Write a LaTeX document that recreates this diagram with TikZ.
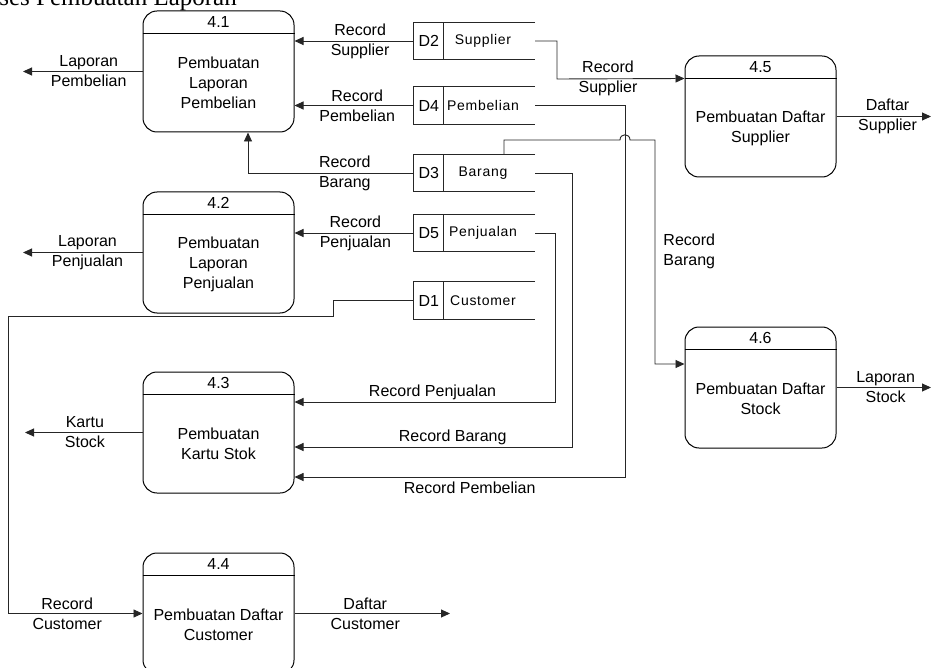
\documentclass[tikz,border=0pt]{standalone}
\usepackage{fontspec}
\setmainfont{Liberation Sans}
\newfontfamily\titlefont{Liberation Serif}
\newfontfamily\storefont[LetterSpace=5]{Liberation Sans}
\usetikzlibrary{arrows.meta}

% process: name, left, top, number, body text
\newcommand\procnode[5]{%
  \node[procbox] (#1) at (#2+75.5,#3+60.5) {};
  \draw[line width=1pt] ([yshift=-23pt]#1.north west) -- ([yshift=-23pt]#1.north east);
  \node (#1num) at ([yshift=-11.5pt]#1.north) {#4};
  \node[align=center] (#1txt) at ([yshift=-11.5pt]#1.center) {#5};
}
% data store: name, centre y, id, title
\newcommand\storenode[4]{%
  \node[storebox] (#1) at (474.5,#2) {};
  \draw[link] (#1.north east) -- (#1.north west) -- (#1.south west) -- (#1.south east);
  \draw[link] ([xshift=30pt]#1.north west) -- ([xshift=30pt]#1.south west);
  \node (#1id) at ([xshift=15pt]#1.west) {#3};
  \node[font=\storefont\fontsize{14}{16}\selectfont] (#1nm) at ([xshift=8.5pt]#1.center) {#4};
}

\begin{document}
\begin{tikzpicture}[x=1pt,y=-1pt,
  every node/.style={font=\fontsize{16}{20}\selectfont, inner sep=0pt},
  link/.style={draw=black!85, line width=0.9pt},
  flow/.style={link, -{Triangle[length=9pt,width=8pt]}},
  lbl/.style={align=center},
  procbox/.style={draw, line width=1pt, rounded corners=14pt,
    minimum width=151pt, minimum height=121pt},
  storebox/.style={minimum width=121pt, minimum height=37pt},
]
\useasboundingbox (0,0) rectangle (933,668);

\node[font=\titlefont\fontsize{25}{29}\selectfont, anchor=base east] (title)
  at (237,6) {Proses Pembuatan Laporan};

% processes
\procnode{p41}{143}{11}{4.1}{Pembuatan\\Laporan\\Pembelian}
\procnode{p42}{143}{192}{4.2}{Pembuatan\\Laporan\\Penjualan}
\procnode{p43}{143}{372}{4.3}{Pembuatan\\Kartu Stok}
\procnode{p44}{143}{553}{4.4}{Pembuatan Daftar\\Customer}
\procnode{p45}{685}{56}{4.5}{Pembuatan Daftar\\Supplier}
\procnode{p46}{685}{327}{4.6}{Pembuatan Daftar\\Stock}

% data stores
\storenode{d2}{41}{D2}{Supplier}
\storenode{d4}{105.5}{D4}{Pembelian}
\storenode{d3}{173}{D3}{Barang}
\storenode{d5}{233}{D5}{Penjualan}
\storenode{d1}{300.5}{D1}{Customer}

% free ends and bends
\coordinate (o41) at (23,71.5);
\coordinate (o42) at (23,252.5);
\coordinate (o43) at (25,432.5);
\coordinate (o44) at (450,613.5);
\coordinate (o45) at (931,116.5);
\coordinate (o46) at (931,387.5);
\coordinate (c1a) at (333,316);
\coordinate (c1b) at (8,316);
\coordinate (c2) at (557,79);
\coordinate (c4) at (625,477);
\coordinate (j1) at (620,140);
\coordinate (j2) at (630,140);
\coordinate (c3b) at (655,364);
\coordinate (c3c) at (572,447);
\coordinate (c5) at (555,402);

% outputs
\draw[flow] (p41.west) -- (o41) node[lbl,pos=0.45] (l1) {Laporan\\Pembelian};
\draw[flow] (p42.west) -- (o42) node[lbl,pos=0.46] (l2) {Laporan\\Penjualan};
\draw[flow] (p43.west) -- (o43) node[lbl,pos=0.49] (l3) {Kartu\\Stock};
\draw[flow] (p44.east) -- (o44) node[lbl,pos=0.455] (l4) {Daftar\\Customer};
\draw[flow] (p45.east) -- (o45) node[lbl,pos=0.54] (l5) {Daftar\\Supplier};
\draw[flow] (p46.east) -- (o46) node[lbl,pos=0.52] (l6) {Laporan\\Stock};

% store to process flows
\draw[flow] (d2.west) -- (p41.east |- d2.west) node[lbl,pos=0.45] (l7) {Record\\Supplier};
\draw[flow] (d4.west) -- (p41.east |- d4.west) node[lbl,pos=0.475] (l8) {Record\\Pembelian};
\draw[flow] (d3.west) -| node[lbl,pos=0.208] (l9) {Record\\Barang} ([xshift=29.5pt]p41.south);
\draw[flow] (d5.west) -- (p42.east |- d5.west) node[lbl,pos=0.49] (l10) {Record\\Penjualan};
\draw[flow] (d1.west) -| (c1a) -- (c1b) |- node[lbl,pos=0.72] (l11) {Record\\Customer} (p44.west);
\draw[flow] (d2.east) -| (c2) -- node[lbl,pos=0.4] (l12) {Record\\Supplier} ([yshift=-23pt]p45.north west);
\draw[flow] (d4.east) -| (c4) -- node[anchor=north,yshift=-4pt,pos=0.47] (l13) {Record Pembelian} (p43.east |- c4);
\draw[flow] (d3.east) -| (c3c) -- node[anchor=south,yshift=2pt,pos=0.43] (l14) {Record Barang} (p43.east |- c3c);
\draw[flow] (d5.east) -| (c5) -- node[anchor=south,yshift=2pt,pos=0.47] (l15) {Record Penjualan} (p43.east |- c5);
\draw[flow] ([xshift=29.5pt]d3.north) |- (j1) .. controls (620,133) and (630,133) .. (j2)
  -| node[anchor=west,align=left,xshift=8pt,pos=0.748] (l16) {Record\\Barang} (c3b)
  -- (p46.west |- c3b);
\end{tikzpicture}
\end{document}
